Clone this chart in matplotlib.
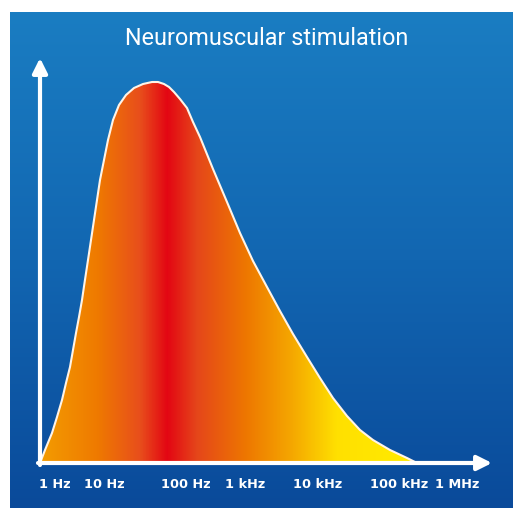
import numpy as np
import matplotlib
matplotlib.use('Agg')
import matplotlib.pyplot as plt
from matplotlib.colors import LinearSegmentedColormap
from matplotlib.patches import Polygon

# curve: position along the axis, height above it
curve_x = [0, 5, 12, 17, 22, 26, 30, 33, 36, 39, 42, 44.5, 48, 51, 54, 57, 60,
           64, 68, 73, 79, 86, 94, 103, 112, 118, 124, 129, 134, 140, 147, 153,
           160, 173, 187, 200, 213, 227, 240, 253, 267, 280, 293, 307, 320, 333,
           350, 367, 377]
curve_y = [0, 13, 30, 46, 63, 80, 96, 113, 130, 146, 163, 180, 203, 223, 243,
           263, 283, 303, 323, 343, 358, 368, 375, 379, 381, 381, 379, 376, 371,
           364, 355, 341, 326, 294, 261, 230, 202, 176, 152, 129, 106, 85, 65,
           47, 33, 23, 13, 5, 0]

tick_pos = [15, 64, 146, 205, 278, 359, 417]
tick_labels = ['1 Hz', '10 Hz', '100 Hz', '1 kHz', '10 kHz', '100 kHz', '1 MHz']
title = 'Neuromuscular stimulation'

fig = plt.figure(figsize=(5.13, 5.09), dpi=100)
ax = fig.add_axes([0, 0, 1, 1])
ax.set_xlim(-40, 473)
ax.set_ylim(-46, 463)
ax.axis('off')
fig.patch.set_facecolor('white')

# blue backdrop
blue = LinearSegmentedColormap.from_list('bg', ['#0a4a9a', '#1266b1', '#1a7dc2'])
grad = np.linspace(0, 1, 256).reshape(-1, 1)
ax.imshow(grad, cmap=blue, origin='lower', aspect='auto',
          extent=[-30, 473, -45, 451], zorder=0)

# horizontal colour ramp under the curve
stops = [(0.0, '#f39c00'), (0.151, '#ef7a00'), (0.265, '#e84e1c'), (0.337, '#e30613'),
         (0.416, '#e5461a'), (0.549, '#ee7800'), (0.671, '#f5a800'), (0.788, '#ffe000'),
         (1.0, '#ffec00')]
warm = LinearSegmentedColormap.from_list('warm', stops)
hgrad = np.linspace(0, 1, 512).reshape(1, -1)
im = ax.imshow(hgrad, cmap=warm, aspect='auto',
               extent=[min(curve_x), max(curve_x), 0, max(curve_y)], zorder=1)
poly = Polygon(np.column_stack([curve_x, curve_y]), closed=True,
               facecolor='none', edgecolor='none')
ax.add_patch(poly)
im.set_clip_path(poly)
ax.plot(curve_x, curve_y, color='#fff4e8', lw=1.5, zorder=2,
        solid_joinstyle='round', antialiased=True)

# axes with arrows
ax.annotate('', xy=(0, 405), xytext=(0, -2),
            arrowprops=dict(arrowstyle='-|>', color='white', lw=3,
                            mutation_scale=22, shrinkA=0, shrinkB=0), zorder=3)
ax.annotate('', xy=(452, 0), xytext=(-2, 0),
            arrowprops=dict(arrowstyle='-|>', color='white', lw=3,
                            mutation_scale=22, shrinkA=0, shrinkB=0), zorder=3)

for p, t in zip(tick_pos, tick_labels):
    ax.text(p, -22, t, color='white', fontsize=9.3, fontweight='bold',
            ha='center', va='center')

ax.text(227, 425, title, color='white', fontsize=16.8, ha='center', va='center',
        family=['Roboto', 'DejaVu Sans'])

fig.savefig('out.png', dpi=100, facecolor='white')
